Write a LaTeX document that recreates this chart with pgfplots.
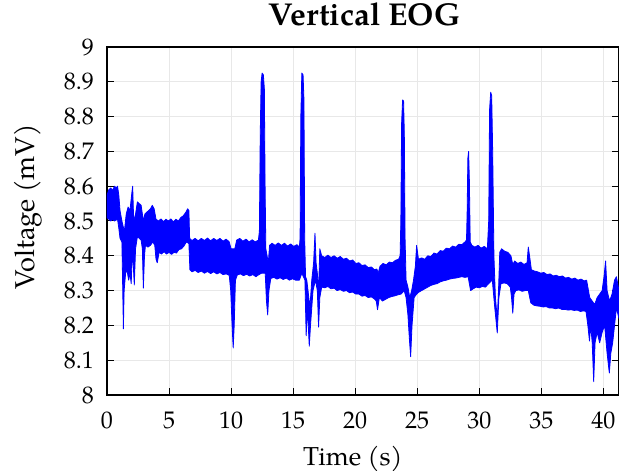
\documentclass[border=0pt]{standalone}
\usepackage{fontspec}
\setmainfont{texgyrepagella}[Extension=.otf, UprightFont=*-regular, BoldFont=*-bold, ItalicFont=*-italic, BoldItalicFont=*-bolditalic]
\usepackage{pgfplots}
\usepackage{pgfplotstable}
\pgfplotsset{compat=1.18}

\pgfplotstableread{
t v
0 8.575
0.15 8.59
0.3 8.595
0.45 8.588
0.6 8.60
0.75 8.595
0.85 8.60
0.95 8.575
1.05 8.53
1.2 8.50
1.4 8.47
1.55 8.52
1.7 8.54
1.85 8.53
2.0 8.58
2.07 8.60
2.15 8.50
2.3 8.52
2.45 8.555
2.6 8.55
2.75 8.545
2.85 8.52
2.95 8.50
3.05 8.52
3.2 8.525
3.35 8.53
3.5 8.535
3.65 8.545
3.8 8.535
3.95 8.505
4.15 8.50
4.35 8.506
4.55 8.498
4.75 8.505
4.95 8.50
5.15 8.506
5.35 8.497
5.55 8.505
5.75 8.50
5.95 8.51
6.15 8.515
6.35 8.525
6.5 8.535
6.6 8.53
6.66 8.45
6.85 8.444
7.1 8.45
7.35 8.443
7.6 8.45
7.85 8.444
8.1 8.451
8.35 8.443
8.6 8.45
8.85 8.444
9.1 8.45
9.35 8.442
9.6 8.448
9.85 8.44
10.0 8.42
10.3 8.42
10.45 8.445
10.7 8.45
10.95 8.442
11.2 8.448
11.45 8.44
11.7 8.446
11.95 8.44
12.2 8.445
12.28 8.47
12.35 8.75
12.42 8.90
12.5 8.925
12.6 8.92
12.68 8.88
12.74 8.60
12.8 8.42
12.9 8.40
13.0 8.38
13.1 8.43
13.3 8.436
13.55 8.43
13.8 8.437
14.05 8.43
14.3 8.436
14.55 8.428
14.8 8.434
15.05 8.427
15.3 8.432
15.5 8.425
15.56 8.45
15.62 8.80
15.7 8.925
15.8 8.92
15.87 8.85
15.93 8.45
16.0 8.34
16.1 8.33
16.2 8.30
16.35 8.25
16.5 8.33
16.65 8.38
16.76 8.465
16.85 8.38
16.95 8.35
17.05 8.30
17.15 8.42
17.3 8.40
17.55 8.395
17.8 8.402
18.05 8.395
18.3 8.40
18.55 8.393
18.8 8.398
19.05 8.39
19.3 8.393
19.55 8.385
19.8 8.388
20.05 8.378
20.3 8.38
20.55 8.372
20.8 8.374
21.05 8.366
21.3 8.368
21.55 8.36
21.75 8.362
21.85 8.35
22.0 8.37
22.25 8.378
22.5 8.374
22.75 8.382
23.0 8.38
23.25 8.387
23.5 8.39
23.62 8.40
23.68 8.50
23.74 8.78
23.82 8.848
23.9 8.845
23.96 8.75
24.02 8.45
24.1 8.33
24.25 8.31
24.4 8.28
24.55 8.30
24.7 8.33
24.85 8.37
24.95 8.43
25.1 8.39
25.35 8.394
25.6 8.39
25.85 8.40
26.1 8.398
26.35 8.408
26.6 8.405
26.85 8.415
27.1 8.413
27.35 8.422
27.6 8.42
27.85 8.428
28.1 8.425
28.35 8.433
28.6 8.432
28.85 8.44
28.97 8.445
29.02 8.52
29.08 8.68
29.14 8.70
29.2 8.62
29.27 8.44
29.4 8.43
29.65 8.425
29.9 8.43
30.15 8.422
30.4 8.427
30.65 8.42
30.76 8.50
30.83 8.82
30.92 8.87
31.0 8.86
31.08 8.70
31.18 8.40
31.3 8.28
31.45 8.22
31.55 8.30
31.65 8.41
31.8 8.42
32.05 8.413
32.3 8.41
32.55 8.40
32.7 8.375
32.85 8.385
33.1 8.378
33.35 8.382
33.6 8.375
33.85 8.38
33.95 8.425
34.05 8.40
34.2 8.36
34.45 8.356
34.7 8.354
34.95 8.35
35.2 8.352
35.45 8.346
35.7 8.348
35.95 8.342
36.2 8.344
36.45 8.34
36.7 8.342
36.95 8.336
37.2 8.338
37.45 8.333
37.7 8.336
37.95 8.33
38.2 8.333
38.45 8.328
38.65 8.33
38.75 8.31
38.9 8.28
39.1 8.27
39.3 8.26
39.5 8.28
39.7 8.29
39.9 8.30
40.05 8.34
40.18 8.385
40.3 8.30
40.5 8.27
40.7 8.29
40.9 8.33
41.05 8.34
41.26 8.30
}\upperenv

\pgfplotstableread{
t v
0 8.51
0.15 8.505
0.3 8.50
0.45 8.505
0.6 8.50
0.75 8.503
0.85 8.505
0.95 8.48
1.05 8.45
1.2 8.44
1.27 8.30
1.32 8.19
1.38 8.30
1.5 8.35
1.6 8.36
1.75 8.33
1.85 8.35
1.95 8.32
2.05 8.42
2.2 8.316
2.3 8.42
2.45 8.455
2.6 8.45
2.75 8.445
2.85 8.42
2.93 8.307
3.02 8.40
3.1 8.43
3.3 8.425
3.5 8.43
3.7 8.44
3.85 8.43
3.95 8.39
4.05 8.38
4.2 8.41
4.4 8.405
4.6 8.412
4.8 8.405
5.0 8.41
5.2 8.404
5.4 8.41
5.6 8.408
5.8 8.418
6.0 8.42
6.2 8.428
6.4 8.44
6.6 8.435
6.68 8.36
6.85 8.354
7.1 8.358
7.35 8.352
7.6 8.356
7.85 8.35
8.1 8.355
8.35 8.349
8.6 8.354
8.85 8.348
9.1 8.352
9.35 8.346
9.6 8.348
9.85 8.344
9.97 8.30
10.08 8.20
10.17 8.135
10.25 8.20
10.35 8.33
10.5 8.345
10.75 8.348
11.0 8.343
11.25 8.347
11.5 8.342
11.75 8.346
12.0 8.34
12.2 8.345
12.45 8.35
12.75 8.35
12.85 8.27
12.95 8.23
13.05 8.30
13.2 8.335
13.45 8.338
13.7 8.333
13.95 8.337
14.2 8.332
14.45 8.336
14.7 8.33
14.95 8.334
15.2 8.33
15.5 8.33
15.7 8.35
15.95 8.33
16.05 8.17
16.15 8.25
16.3 8.14
16.4 8.20
16.6 8.30
16.8 8.33
16.95 8.30
17.05 8.195
17.15 8.28
17.3 8.31
17.55 8.308
17.8 8.312
18.05 8.305
18.3 8.307
18.55 8.30
18.8 8.303
19.05 8.298
19.3 8.30
19.55 8.294
19.8 8.296
20.05 8.29
20.3 8.29
20.55 8.284
20.8 8.286
21.05 8.28
21.3 8.282
21.55 8.276
21.7 8.27
21.8 8.245
21.95 8.28
22.2 8.27
22.45 8.275
22.7 8.28
22.95 8.283
23.2 8.285
23.45 8.288
23.7 8.29
23.95 8.30
24.1 8.28
24.25 8.23
24.37 8.16
24.47 8.11
24.58 8.20
24.75 8.28
24.95 8.29
25.1 8.295
25.35 8.30
25.6 8.305
25.85 8.31
26.1 8.315
26.35 8.318
26.6 8.32
26.85 8.325
27.1 8.328
27.35 8.33
27.6 8.333
27.85 8.335
28.1 8.336
28.35 8.338
28.6 8.34
28.85 8.338
29.1 8.34
29.3 8.30
29.5 8.305
29.75 8.31
30.0 8.308
30.25 8.312
30.5 8.31
30.75 8.32
31.05 8.33
31.25 8.25
31.45 8.178
31.58 8.28
31.75 8.32
32.0 8.322
32.25 8.32
32.5 8.31
32.6 8.28
32.7 8.235
32.8 8.29
32.95 8.30
33.2 8.302
33.45 8.298
33.7 8.30
33.95 8.30
34.15 8.265
34.4 8.258
34.65 8.256
34.9 8.255
35.15 8.253
35.4 8.254
35.65 8.25
35.9 8.25
36.15 8.248
36.4 8.25
36.65 8.246
36.9 8.246
37.15 8.244
37.4 8.245
37.65 8.243
37.9 8.244
38.15 8.24
38.4 8.242
38.6 8.24
38.75 8.20
38.88 8.155
38.98 8.20
39.1 8.15
39.22 8.038
39.33 8.15
39.5 8.18
39.7 8.15
39.9 8.18
40.1 8.20
40.3 8.12
40.48 8.063
40.6 8.12
40.75 8.15
40.9 8.20
41.05 8.25
41.26 8.22
}\lowerenv

\pgfplotstablesort[sort key=t, sort cmp=float >]{\lowerrev}{\lowerenv}
\pgfplotstablevertcat{\upperenv}{\lowerrev}

\begin{document}
\begin{tikzpicture}
\begin{axis}[
  scale only axis, width=256pt, height=174pt,
  xmin=0, xmax=41.26, ymin=8, ymax=9,
  xtick={0,5,10,15,20,25,30,35,40},
  ytick={8,8.1,8.2,8.3,8.4,8.5,8.6,8.7,8.8,8.9,9},
  /pgf/number format/assume math mode=true,
  tick align=inside, xtick pos=bottom, ytick pos=both,
  grid=major, major grid style={gray!18, line width=0.5pt},
  axis line style={line width=0.6pt},
  tick style={black, line width=0.5pt}, major tick length=3.5pt,
  ticklabel style={font=\fontsize{12}{14}\selectfont},
  xticklabel style={yshift=-5pt},
  yticklabel style={xshift=-3pt},
  title={Vertical EOG},
  title style={font=\fontsize{15.8}{18}\selectfont\bfseries, at={(axis description cs:0.503,1)}, anchor=base, yshift=4.75pt},
  xlabel={Time (s)},
  xlabel style={font=\fontsize{13}{15}\selectfont, at={(axis description cs:0.48,0)}, anchor=base, yshift=-35pt},
  ylabel={Voltage (mV)},
  ylabel style={font=\fontsize{13.6}{16}\selectfont, at={(axis description cs:-0.154,0.54)}, anchor=center},
]
\addplot[draw=blue, fill=blue, line width=0.4pt, line join=round] table[x=t, y=v] {\upperenv} -- cycle;
\end{axis}
\pgfresetboundingbox
\path ([xshift=-53.5pt,yshift=-37.5pt]current axis.south west) rectangle ([yshift=23.5pt]current axis.north east);
\end{tikzpicture}
\end{document}
